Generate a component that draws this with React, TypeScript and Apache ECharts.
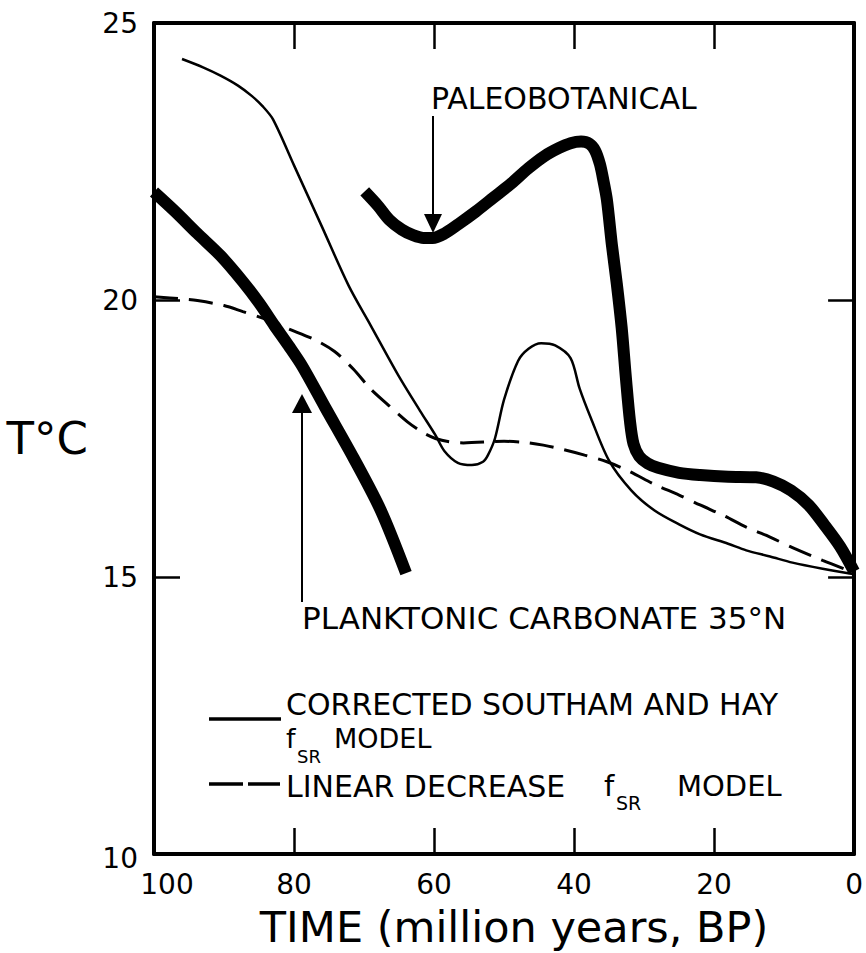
import React, { useEffect, useRef } from "react";
import * as echarts from "echarts";

// Axis ticks
const xTickValues = [100, 80, 60, 40, 20, 0];
const yTickValues = [10, 15, 20, 25];

// Corrected Southam and Hay fSR model (thin solid)
const southamTime = [96, 93, 90.5, 88, 86, 84.5, 83, 80, 76, 72.2, 69, 65.1, 62, 59.8, 58.5, 56.6, 54.6, 53, 52.3, 51.3, 50, 48, 46.5, 44.7, 42.7, 40.5, 39.2, 37.6, 35, 31.8, 28.5, 25, 22, 18, 15.4, 12, 8.8, 4.5, 0];
const southamTemp = [24.35, 24.2, 24.05, 23.87, 23.68, 23.5, 23.26, 22.43, 21.32, 20.26, 19.53, 18.64, 18.0, 17.56, 17.27, 17.06, 17.02, 17.08, 17.2, 17.5, 18.2, 18.9, 19.12, 19.22, 19.18, 18.95, 18.4, 17.87, 17.1, 16.56, 16.2, 15.95, 15.77, 15.6, 15.48, 15.37, 15.26, 15.15, 15.05];

// Linear decrease fSR model (dashed)
const linearTime = [100, 96, 93.8, 90, 87.3, 84, 80.8, 77, 74.2, 71.5, 69.1, 66.5, 63.8, 61.5, 59.8, 57.8, 55.8, 50, 47, 44.4, 41.5, 38.5, 35.3, 32, 28.5, 25, 22, 18.5, 15.4, 12, 8.8, 4.5, 0];
const linearTemp = [20.06, 20.02, 19.99, 19.9, 19.79, 19.65, 19.48, 19.28, 19.07, 18.75, 18.4, 18.1, 17.8, 17.6, 17.5, 17.44, 17.42, 17.45, 17.43, 17.38, 17.3, 17.2, 17.08, 16.9, 16.67, 16.48, 16.3, 16.1, 15.9, 15.72, 15.53, 15.3, 15.08];

// Planktonic carbonate 35°N (thick)
const planktonTime = [100, 97, 93.8, 90.5, 87.3, 85, 82.8, 80.8, 78.8, 75.5, 71.5, 67.6, 64];
const planktonTemp = [21.95, 21.6, 21.2, 20.8, 20.33, 19.95, 19.54, 19.18, 18.8, 18.05, 17.15, 16.2, 15.07];

// Paleobotanical (thick)
const paleoTime = [69.9, 68, 66.4, 64.6, 63, 61.5, 60.2, 58.5, 56.5, 54, 51.5, 49, 46.5, 44.2, 42.2, 40.5, 39, 37.8, 37, 36.3, 35.8, 35.3, 34.6, 33.9, 33.2, 32.6, 32.0, 31.5, 30.7, 29.5, 28, 25, 22, 18, 14, 11.5, 9, 6.5, 4.3, 2, 0];
const paleoTemp = [21.96, 21.7, 21.45, 21.27, 21.17, 21.12, 21.12, 21.2, 21.37, 21.6, 21.85, 22.1, 22.38, 22.6, 22.74, 22.83, 22.86, 22.82, 22.7, 22.45, 22.15, 21.8, 21.0, 20.3, 19.5, 18.6, 17.8, 17.4, 17.18, 17.05, 16.97, 16.88, 16.84, 16.81, 16.8, 16.72, 16.56, 16.3, 15.95, 15.55, 15.1];

const FONT = "DejaVu Sans";
const BLACK = "#000";

const zip = (xs: number[], ys: number[]) => xs.map((x, i) => [x, ys[i]]);

function txt(text: string, x: number, y: number, size: number, align = "left") {
  return {
    type: "text",
    x,
    y,
    silent: true,
    style: {
      text,
      fill: BLACK,
      font: `${size}px "${FONT}"`,
      fontSize: size,
      fontFamily: FONT,
      textAlign: align,
      align,
      textVerticalAlign: "middle",
      verticalAlign: "middle",
    },
  };
}

const makeTick = () => ({ show: true, inside: true, length: 26, lineStyle: { color: BLACK, width: 2.5 } });
const makeLine = () => ({ show: true, onZero: false, lineStyle: { color: BLACK, width: 4 } });

export default function App() {
  const ref = useRef<HTMLDivElement>(null);
  useEffect(() => {
    const chart = echarts.init(ref.current!, null, { renderer: "svg" });
    const option: any = {
      animation: false,
      backgroundColor: "#fff",
      grid: { left: 154, right: 9, top: 23, bottom: 96, containLabel: false },
      xAxis: [
        {
          type: "value",
          min: 0,
          max: 100,
          interval: 20,
          inverse: true,
          position: "bottom",
          axisLine: makeLine(),
          axisTick: makeTick(),
          splitLine: { show: false },
          name: "TIME (million years, BP)",
          nameLocation: "middle",
          nameGap: 51,
          nameTextStyle: { fontFamily: FONT, fontSize: 43, color: BLACK, padding: [0, 0, 0, 20] },
          axisLabel: {
            show: true,
            margin: 16,
            fontFamily: FONT,
            fontSize: 28,
            color: BLACK,
            formatter: (v: number) => (xTickValues.includes(v) ? (v === 100 ? `{a|${v}}` : String(v)) : ""),
            rich: { a: { fontFamily: FONT, fontSize: 28, color: BLACK, padding: [0, 0, 0, 26] } },
          },
        },
        {
          type: "value",
          min: 0,
          max: 100,
          interval: 20,
          inverse: true,
          position: "top",
          axisLine: makeLine(),
          axisTick: makeTick(),
          axisLabel: { show: false },
          splitLine: { show: false },
        },
      ],
      yAxis: [
        {
          type: "value",
          min: 10,
          max: 25,
          interval: 5,
          position: "left",
          axisLine: makeLine(),
          axisTick: makeTick(),
          splitLine: { show: false },
          name: "T°C",
          nameLocation: "middle",
          nameRotate: 0,
          nameGap: 66,
          nameTextStyle: { fontFamily: FONT, fontSize: 45, color: BLACK },
          axisLabel: {
            show: true,
            margin: 16,
            fontFamily: FONT,
            fontSize: 28,
            color: BLACK,
            formatter: (v: number) => (yTickValues.includes(v) ? (v === 10 ? `{b|${v}}` : String(v)) : ""),
            rich: { b: { fontFamily: FONT, fontSize: 28, color: BLACK, padding: [8, 0, 0, 0] } },
          },
        },
        {
          type: "value",
          min: 10,
          max: 25,
          interval: 5,
          position: "right",
          axisLine: makeLine(),
          axisTick: makeTick(),
          axisLabel: { show: false },
          splitLine: { show: false },
        },
      ],
      series: [
        {
          name: "Corrected Southam and Hay fSR model",
          type: "line",
          data: zip(southamTime, southamTemp),
          showSymbol: false,
          smooth: 0.3,
          silent: true,
          lineStyle: { color: BLACK, width: 2.5 },
        },
        {
          name: "Linear decrease fSR model",
          type: "line",
          data: zip(linearTime, linearTemp),
          showSymbol: false,
          smooth: 0.3,
          silent: true,
          lineStyle: { color: BLACK, width: 3, type: [24, 11] },
        },
        {
          name: "Planktonic carbonate 35°N",
          type: "line",
          data: zip(planktonTime, planktonTemp),
          showSymbol: false,
          smooth: 0.3,
          silent: true,
          lineStyle: { color: BLACK, width: 12, cap: "butt" },
        },
        {
          name: "Paleobotanical",
          type: "line",
          data: zip(paleoTime, paleoTemp),
          showSymbol: false,
          smooth: 0.3,
          silent: true,
          lineStyle: { color: BLACK, width: 12, cap: "butt", join: "round" },
        },
      ],
      graphic: [
        // annotations
        txt("PALEOBOTANICAL", 431, 98, 30),
        { type: "line", silent: true, shape: { x1: 433, y1: 116, x2: 433, y2: 216 }, style: { stroke: BLACK, lineWidth: 2 } },
        { type: "polygon", silent: true, shape: { points: [[433, 233], [424, 214], [442, 214]] }, style: { fill: BLACK } },
        txt("PLANKTONIC CARBONATE 35°N", 302, 618, 31),
        { type: "line", silent: true, shape: { x1: 302, y1: 412, x2: 302, y2: 602 }, style: { stroke: BLACK, lineWidth: 2 } },
        { type: "polygon", silent: true, shape: { points: [[302, 394], [292, 413], [312, 413]] }, style: { fill: BLACK } },
        // legend
        { type: "line", silent: true, shape: { x1: 209, y1: 719, x2: 281, y2: 719 }, style: { stroke: BLACK, lineWidth: 3.5 } },
        txt("CORRECTED SOUTHAM AND HAY", 286, 704, 30),
        txt("f", 286, 738, 27),
        txt("SR", 297, 756, 18),
        txt("MODEL", 334, 738, 27),
        { type: "line", silent: true, shape: { x1: 209, y1: 784, x2: 280, y2: 784 }, style: { stroke: BLACK, lineWidth: 3.5, lineDash: [34, 5] } },
        txt("LINEAR DECREASE", 286, 786, 30),
        txt("f", 604, 786, 29),
        txt("SR", 616, 803, 19),
        txt("MODEL", 677, 786, 29),
      ],
    };
    chart.setOption(option);
    return () => chart.dispose();
  }, []);
  return <div ref={ref} style={{ position: "absolute", left: 0, top: 0, width: 866, height: 953 }} />;
}
